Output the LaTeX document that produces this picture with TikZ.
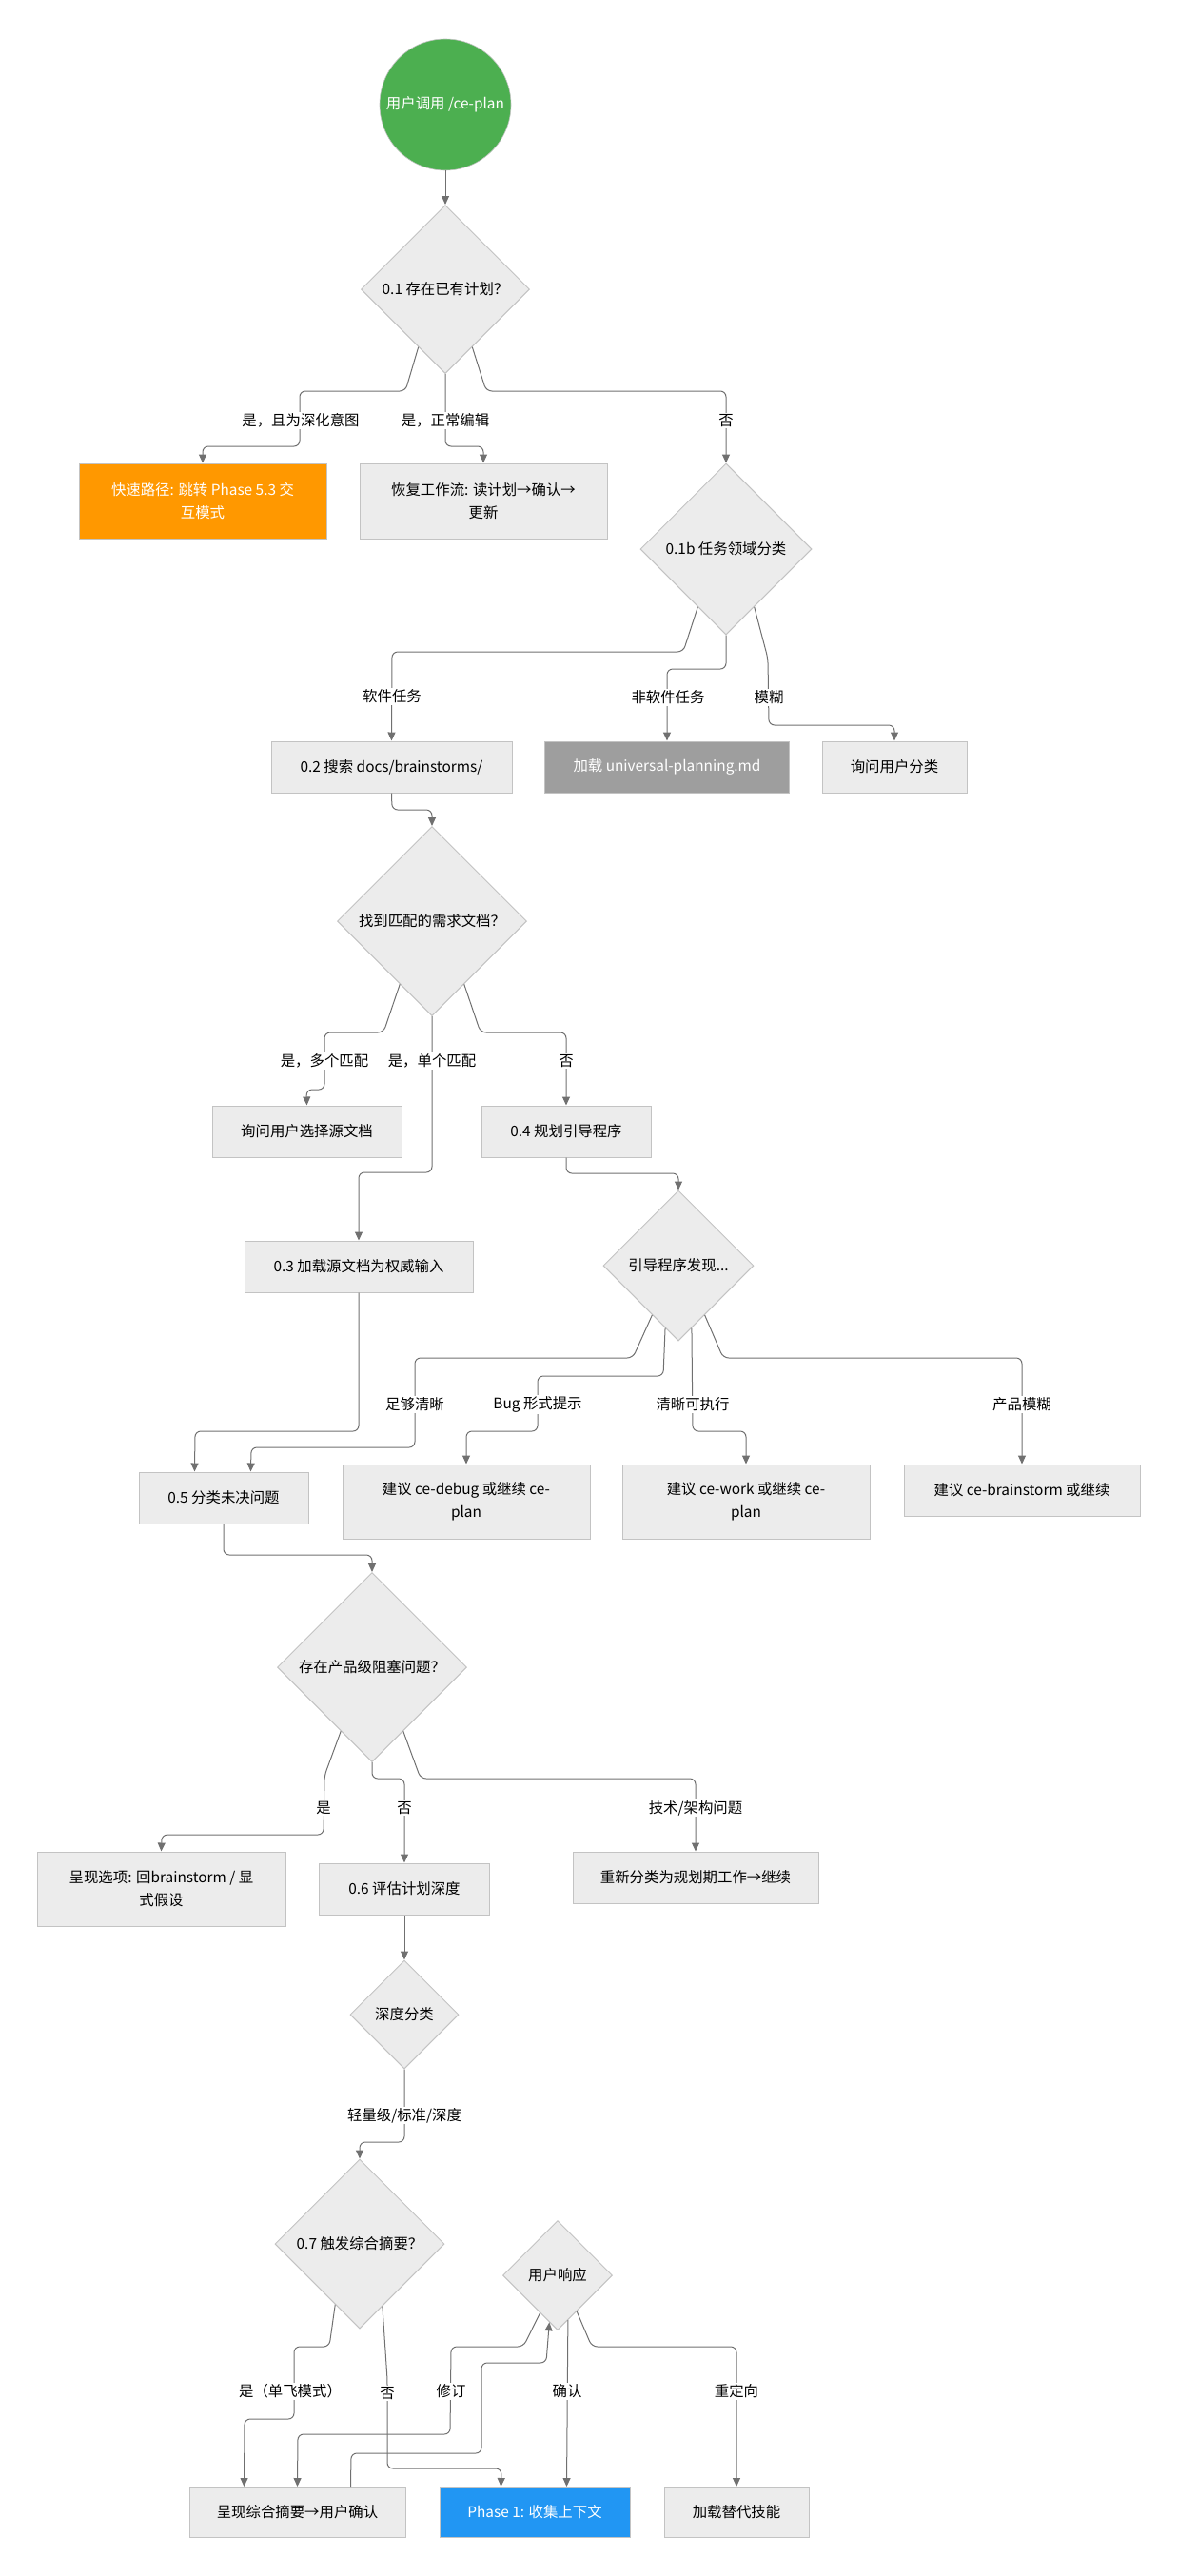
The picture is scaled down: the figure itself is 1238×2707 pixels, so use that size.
\documentclass[tikz,border=0pt]{standalone}
\usepackage{fontspec}
\setmainfont{Noto Sans CJK SC}
\usetikzlibrary{arrows.meta,shapes.geometric}
\definecolor{boxfill}{HTML}{ECECEC}
\definecolor{boxline}{HTML}{C3C3C3}
\definecolor{edgeline}{HTML}{707070}
\definecolor{startgreen}{HTML}{4CAF50}
\definecolor{fastorange}{HTML}{FF9800}
\definecolor{loadgrey}{HTML}{9E9E9E}
\definecolor{phaseblue}{HTML}{2196F3}

\begin{document}
\begin{tikzpicture}[x=1pt,y=-1pt,
  every node/.style={font=\fontsize{15.4pt}{24pt}\selectfont},
  box/.style={draw=boxline,fill=boxfill,line width=1pt,inner sep=0pt,align=center,minimum height=54pt},
  decide/.style={diamond,draw=boxline,fill=boxfill,line width=1pt,inner sep=0pt,aspect=1},
  startnode/.style={circle,draw=boxline,fill=startgreen,text=white,line width=0.6pt,inner sep=0pt,minimum size=138pt},
  lbl/.style={fill=white,inner sep=1.5pt},
  arr/.style={draw=edgeline,line width=1pt,rounded corners=6pt,-{Triangle[length=9pt,width=8pt]}}]
\useasboundingbox (0,0) rectangle (1238,2707);

\draw (468,110) node (start) [startnode] {用户调用 /ce-plan};
\draw (468,304) node (d1) [decide,minimum size=177pt] {0.1 存在已有计划？};
\draw (213,526.5) node (fast) [box,fill=fastorange,text=white,minimum width=260pt,minimum height=79pt] {快速路径: 跳转 Phase 5.3 交\\互模式};
\draw (508,526.5) node (resume) [box,minimum width=260pt,minimum height=79pt] {恢复工作流: 读计划→确认→\\更新};
\draw (763,577) node (d2) [decide,minimum size=180pt] {0.1b 任务领域分类};
\draw (411.5,806) node (search) [box,minimum width=253pt] {0.2 搜索 docs/brainstorms/};
\draw (701,806) node (univ) [box,fill=loadgrey,text=white,minimum width=257pt] {加载 universal-planning.md};
\draw (940,806) node (askcat) [box,minimum width=152pt] {询问用户分类};
\draw (454,968) node (d3) [decide,minimum size=199pt] {找到匹配的需求文档？};
\draw (322.5,1189) node (asksrc) [box,minimum width=199pt] {询问用户选择源文档};
\draw (595,1189) node (boot) [box,minimum width=178pt] {0.4 规划引导程序};
\draw (377,1331) node (loadsrc) [box,minimum width=240pt] {0.3 加载源文档为权威输入};
\draw (713,1330) node (d4) [decide,minimum size=158pt] {引导程序发现...};
\draw (235,1574) node (triage) [box,minimum width=178pt] {0.5 分类未决问题};
\draw (490,1578) node (debug) [box,minimum width=260pt,minimum height=78pt] {建议 ce-debug 或继续 ce-\\plan};
\draw (784,1578) node (work) [box,minimum width=260pt,minimum height=78pt] {建议 ce-work 或继续 ce-\\plan};
\draw (1074,1566) node (brain) [box,minimum width=248pt] {建议 ce-brainstorm 或继续};
\draw (391,1752) node (d5) [decide,minimum size=199pt] {存在产品级阻塞问题？};
\draw (169.5,1985) node (options) [box,minimum width=261pt,minimum height=78pt] {呈现选项: 回brainstorm / 显\\式假设};
\draw (425,1985) node (depth) [box,minimum width=179pt] {0.6 评估计划深度};
\draw (731,1973) node (reclass) [box,minimum width=258pt] {重新分类为规划期工作→继续};
\draw (425,2117) node (d6) [decide,minimum size=114pt] {深度分类};
\draw (378,2358) node (d7) [decide,minimum size=178pt] {0.7 触发综合摘要？};
\draw (586,2391) node (d8) [decide,minimum size=115pt] {用户响应};
\draw (312.5,2640) node (summary) [box,minimum width=227pt,minimum height=53pt] {呈现综合摘要→用户确认};
\draw (562,2640) node (phase) [box,fill=phaseblue,text=white,minimum width=200pt,minimum height=53pt] {Phase 1: 收集上下文};
\draw (774,2640) node (alt) [box,minimum width=152pt,minimum height=53pt] {加载替代技能};

\draw[arr] (start.south) -- (d1.north);
\draw[arr] (d1.-115) -- (426,411) -- (315,411) -- (315,469) -- (213,469) -- (fast.north);
\draw[arr] (d1.south) -- (468,469) -- (508,469) -- (resume.north);
\draw[arr] (d1.-65) -- (511,411) -- (763,411) -- (d2.north);
\draw[arr] (d2.-116) -- (718,685) -- (412,685) -- (search.north);
\draw[arr] (d2.south) -- (763,703) -- (701,703) -- (univ.north);
\draw[arr] (d2.-64) -- (807,692) -- (808,762) -- (940,762) -- (askcat.north);
\draw[arr] (search.south) -- (412,851) -- (454,851) -- (d3.north);
\draw[arr] (d3.-117) -- (403,1085) -- (341,1085) -- (341,1145) -- (322,1145) -- (asksrc.north);
\draw[arr] (d3.south) -- (454,1232) -- (377,1232) -- (loadsrc.north);
\draw[arr] (d3.-63) -- (505,1085) -- (595,1085) -- (boot.north);
\draw[arr] (boot.south) -- (595,1233) -- (713,1233) -- (d4.north);
\draw[arr] (loadsrc.south) -- (377,1504) -- (205,1504) -- ([xshift=59pt]triage.north west);
\draw[arr] (d4.-118) -- (665,1427) -- (436,1427) -- (436,1521) -- (264,1521) -- ([xshift=118pt]triage.north west);
\draw[arr] (d4.-102) -- (697,1446) -- (565,1446) -- (565,1504) -- (490,1504) -- (debug.north);
\draw[arr] (d4.-78) -- (728,1504) -- (784,1504) -- (work.north);
\draw[arr] (d4.-62) -- (760,1427) -- (1074,1427) -- (brain.north);
\draw[arr] (triage.south) -- (235,1634) -- (391,1634) -- (d5.north);
\draw[arr] (d5.-116) -- (341,1866) -- (340,1928) -- (170,1928) -- (options.north);
\draw[arr] (d5.south) -- (391,1869) -- (425,1869) -- (depth.north);
\draw[arr] (d5.-64) -- (442,1869) -- (731,1869) -- (reclass.north);
\draw[arr] (depth.south) -- (d6.north);
\draw[arr] (d6.south) -- (425,2251) -- (378,2251) -- (d7.north);
\draw[arr] (d7.-112) -- (346,2466) -- (309,2466) -- (309,2542) -- (257,2542) -- ([xshift=58pt]summary.north west);
\draw[arr] (d7.-70) -- (407,2500) -- (407,2594) -- (527,2594) -- ([xshift=65pt]phase.north west);
\draw[arr] (d8.-115) -- (550,2466) -- (474,2466) -- (473,2558) -- (313,2558) -- ([xshift=114pt]summary.north west);
\draw[arr] (d8.-77) -- ([xshift=134pt]phase.north west);
\draw[arr] (d8.-62) -- (622,2466) -- (774,2466) -- (alt.north);
\draw[arr] ([xshift=170pt]summary.north west) -- (369,2578) -- (506,2578) -- (506,2483) -- (574,2483) -- (d8.-100);

\draw (316,442) node (l1) [lbl] {是，且为深化意图};
\draw (468,442) node (l2) [lbl] {是，正常编辑};
\draw (763,442) node (l3) [lbl] {否};
\draw (412,732) node (l4) [lbl] {软件任务};
\draw (702,733) node (l5) [lbl] {非软件任务};
\draw (808,733) node (l6) [lbl] {模糊};
\draw (341,1115) node (l7) [lbl] {是，多个匹配};
\draw (454,1115) node (l8) [lbl] {是，单个匹配};
\draw (595,1115) node (l9) [lbl] {否};
\draw (436,1476) node (l10) [lbl] {足够清晰};
\draw (565,1476) node (l11) [lbl] {Bug 形式提示};
\draw (728,1476) node (l12) [lbl] {清晰可执行};
\draw (1074,1476) node (l13) [lbl] {产品模糊};
\draw (340,1900) node (l14) [lbl] {是};
\draw (425,1900) node (l15) [lbl] {否};
\draw (731,1900) node (l16) [lbl] {技术/架构问题};
\draw (425,2223) node (l17) [lbl] {轻量级/标准/深度};
\draw (305,2513) node (l18) [lbl] {是（单飞模式）};
\draw (407,2515) node (l19) [lbl] {否};
\draw (474,2513) node (l20) [lbl] {修订};
\draw (596,2513) node (l21) [lbl] {确认};
\draw (774,2513) node (l22) [lbl] {重定向};
\end{tikzpicture}
\end{document}
